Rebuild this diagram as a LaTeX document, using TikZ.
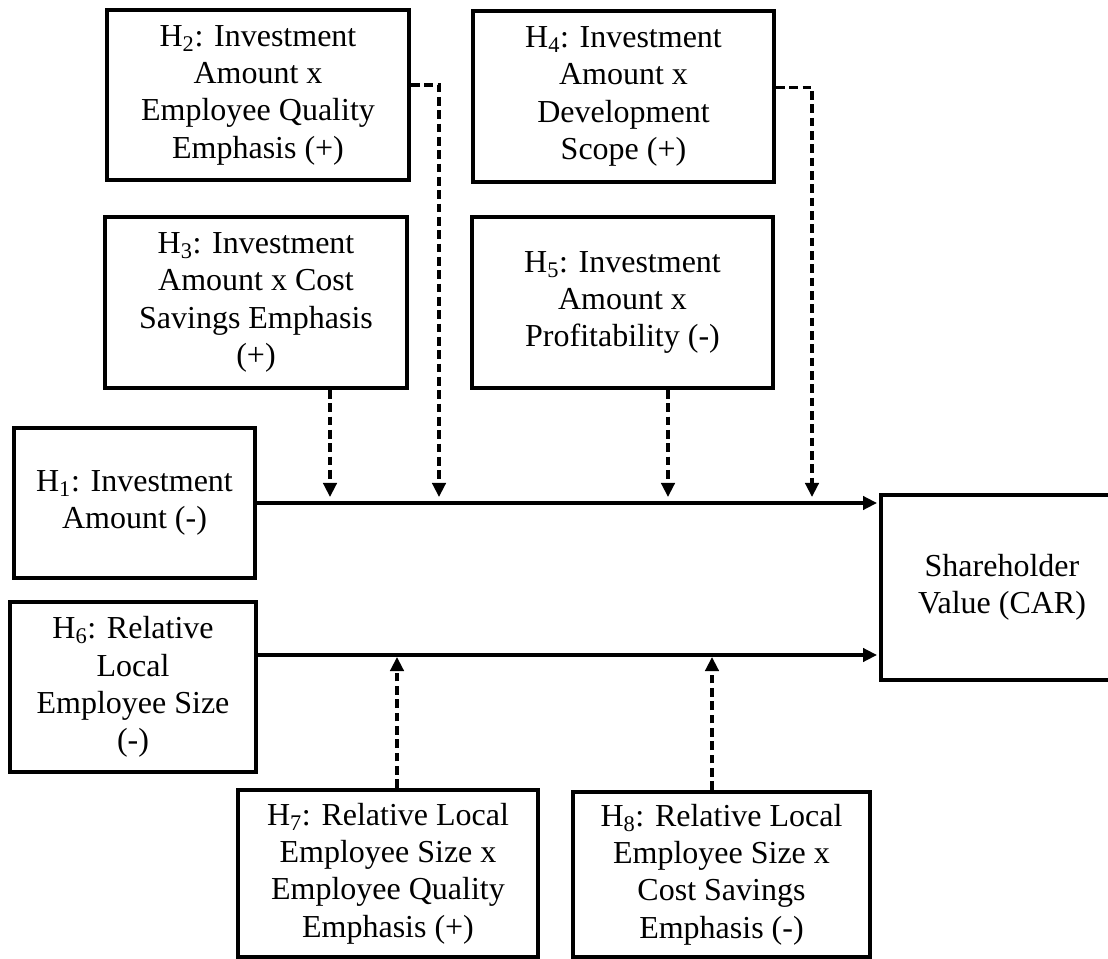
\documentclass[tikz,border=0pt]{standalone}
\usepackage{fontspec}
\setmainfont{Liberation Serif}
\usetikzlibrary{arrows.meta,calc}
\begin{document}
\begin{tikzpicture}[x=0.75pt,y=-0.75pt,
  box/.style={draw,line width=3pt,rectangle,align=center,inner sep=0pt,
    font=\fontsize{24}{28}\selectfont},
  sz/.style 2 args={minimum width=#1*0.75pt,minimum height=#2*0.75pt},
  solidarr/.style={line width=2.4pt,-{Triangle[length=10.5pt,width=10pt]}},
  dasharr/.style={line width=2.4pt,dash pattern=on 6.5pt off 3.5pt,
    -{Triangle[length=10.5pt,width=10pt]}}]
\useasboundingbox (0,0) rectangle (1108,959);

\node[box,sz={302}{170}] (H2) at (258,95)
  {H\textsubscript{2}: Investment\\Amount x\\Employee Quality\\Emphasis (+)};
\node[box,sz={302}{171}] (H3) at (256,302.5)
  {H\textsubscript{3}: Investment\\Amount x Cost\\Savings Emphasis\\(+)};
\node[box,sz={301}{171}] (H4) at (623.5,96.5)
  {H\textsubscript{4}: Investment\\Amount x\\Development\\Scope (+)};
\node[box,sz={301}{171}] (H5) at (622.5,302.5)
  {H\textsubscript{5}: Investment\\Amount x\\Profitability (-)};
\node[box,sz={241}{150}] (H1) at (134.5,503)
  {H\textsubscript{1}: Investment\\Amount (-)};
\node[box,sz={246}{170}] (H6) at (133,687)
  {H\textsubscript{6}: Relative\\Local\\Employee Size\\(-)};
\node[box,sz={242}{185}] (SV) at (1002,587.5)
  {Shareholder\\Value (CAR)};
\node[box,sz={300}{167}] (H7) at (388,873.5)
  {H\textsubscript{7}: Relative Local\\Employee Size x\\Employee Quality\\Emphasis (+)};
\node[box,sz={297}{165}] (H8) at (721.5,874.5)
  {H\textsubscript{8}: Relative Local\\Employee Size x\\Cost Savings\\Emphasis (-)};

\coordinate (m3) at (330,503);
\coordinate (m2) at (439,503);
\coordinate (m5) at (668,503);
\coordinate (m4) at (812,503);
\coordinate (n7) at (397,655);
\coordinate (n8) at (712,655);

\draw[solidarr,shorten >=1.5pt] (H1.east) -- (H1.east -| SV.west);
\draw[solidarr,shorten >=1.5pt] (H6.east |- n7) -- (SV.west |- n7);

\draw[dasharr,shorten >=4.5pt] (H3.south -| m3) -- (m3);
\draw[dasharr,shorten >=4.5pt] ([yshift=7.5pt]H2.east) -| (m2);
\draw[dasharr,shorten >=4.5pt] (H5.south -| m5) -- (m5);
\draw[dasharr,shorten >=4.5pt] ([yshift=7pt]H4.east) -| (m4);
\draw[dasharr,shorten >=1.5pt] (H7.north -| n7) -- (n7);
\draw[dasharr,shorten >=1.5pt] (H8.north -| n8) -- (n8);
\end{tikzpicture}
\end{document}
